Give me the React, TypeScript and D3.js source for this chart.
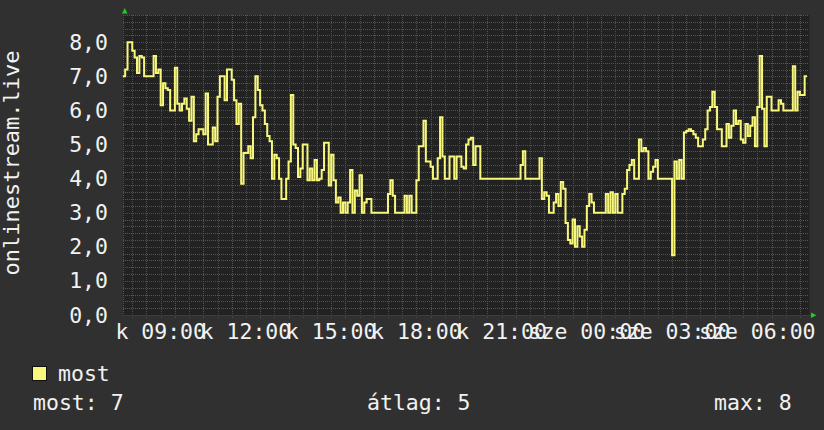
import * as d3 from 'd3'

// Hungarian weekday abbreviations (Sunday first), as rrdtool prints them in hu_HU
const WEEKDAYS = ['v', 'h', 'k', 'sze', 'cs', 'p', 'szo']

// first sample: Tuesday 07:40, then one sample every 5 minutes
const FIRST_SAMPLE = new Date(2024, 0, 2, 7, 40)
const RANGE_END = new Date(2024, 0, 3, 7, 50)
const STEP_MINUTES = 5

const Y_MAX = 8.8
const Y_LABELS = [0, 1, 2, 3, 4, 5, 6, 7, 8]

const AXIS_TITLE = 'onlinestream.live'
const SERIES_NAME = 'most'
const STAT_LABELS = ['most', 'átlag', 'max']

// listeners, 5 minute samples, one row per hour
const mostValues = [
  7.0, 7.2, 8.0, 8.0, // 07:40
  7.75, 7.55, 7.1, 7.6, 7.55, 7.0, 7.0, 7.0, 7.0, 7.6, 7.1, 7.2, // 08
  6.15, 6.8, 6.65, 6.6, 6.0, 6.0, 7.25, 6.2, 6.0, 6.2, 6.35, 6.05, // 09
  5.7, 6.4, 5.1, 5.3, 5.45, 5.45, 5.3, 6.5, 5.0, 5.0, 5.5, 5.1, // 10
  6.4, 7.0, 7.0, 6.3, 7.2, 7.2, 6.9, 6.3, 5.6, 6.2, 3.85, 4.75, // 11
  4.75, 4.95, 4.6, 5.8, 7.0, 6.6, 6.15, 6.0, 5.6, 5.25, 5.1, 4.0, // 12
  4.7, 4.6, 4.0, 3.4, 3.4, 4.0, 4.5, 6.45, 5.0, 4.9, 4.05, 4.3, // 13
  5.0, 5.0, 3.95, 4.3, 3.95, 4.55, 3.95, 4.0, 4.25, 5.05, 5.05, 3.8, // 14
  4.7, 3.95, 3.3, 3.45, 3.0, 3.3, 3.0, 3.3, 4.25, 3.0, 3.65, 3.5, // 15
  4.1, 3.0, 3.3, 3.4, 3.4, 3.0, 3.0, 3.0, 3.0, 3.0, 3.0, 3.0, // 16
  3.55, 3.95, 3.5, 3.0, 3.0, 3.0, 3.0, 3.5, 3.0, 3.5, 3.0, 3.0, // 17
  3.95, 4.95, 4.95, 5.7, 4.5, 4.5, 4.35, 4.0, 4.0, 4.6, 5.8, 4.65, // 18
  4.0, 4.0, 4.65, 4.65, 4.0, 4.65, 4.65, 4.35, 4.3, 5.0, 5.15, 5.2, // 19
  4.4, 4.95, 4.95, 4.0, 4.0, 4.0, 4.0, 4.0, 4.0, 4.0, 4.0, 4.0, // 20
  4.0, 4.0, 4.0, 4.0, 4.0, 4.0, 4.0, 4.0, 4.4, 4.8, 4.0, 4.0, // 21
  4.0, 4.0, 4.0, 4.0, 4.6, 3.4, 3.6, 3.5, 3.0, 3.0, 3.3, 3.55, // 22
  3.2, 3.9, 3.7, 2.7, 2.2, 2.1, 2.8, 2.0, 2.6, 2.3, 2.0, 2.5, // 23
  3.2, 3.55, 3.3, 3.0, 3.0, 3.0, 3.0, 3.0, 3.55, 3.0, 3.6, 3.0, // 00
  3.55, 3.0, 3.0, 3.55, 3.7, 4.25, 4.4, 4.55, 4.0, 4.0, 5.15, 4.8, // 01
  4.9, 4.8, 4.0, 4.2, 4.35, 4.55, 4.0, 4.0, 4.0, 4.0, 4.0, 4.0, // 02
  1.75, 4.5, 4.0, 4.55, 4.0, 5.35, 5.4, 5.45, 5.4, 5.3, 5.2, 4.95, // 03
  4.95, 5.15, 5.45, 6.0, 6.1, 6.55, 6.1, 5.45, 5.45, 4.95, 4.95, 5.6, // 04
  5.2, 5.55, 6.0, 5.6, 5.7, 5.15, 5.05, 5.6, 5.25, 5.55, 5.8, 4.95, // 05
  6.1, 7.6, 6.05, 4.95, 6.4, 6.4, 6.0, 6.0, 6.0, 6.3, 6.2, 6.0, // 06
  6.0, 6.0, 6.0, 7.3, 6.0, 6.55, 6.45, 6.45, 7.0, // 07
]

const WIDTH = 824
const HEIGHT = 430
const PLOT = { left: 122.8, right: 809.4, top: 15, bottom: 315 }

const BG = '#303030'
const CANVAS = '#222222'
const FONT = {
  fontFamily: '"DejaVu Sans Mono", monospace',
  fill: '#f2f2f2',
}
const MINOR = '#555555'
const MAJOR = '#7a3a3a'
const LINE = '#f7f77c'
const ARROW = '#22cc22'

interface Sample {
  t: Date
  v: number
}

const fmtTime = d3.timeFormat('%H:%M')
const fmtTick = d3.format('.1f')

export default function App() {
  const samples: Sample[] = mostValues.map((v, i) => ({
    t: d3.timeMinute.offset(FIRST_SAMPLE, i * STEP_MINUTES),
    v,
  }))
  const last = samples[samples.length - 1]
  const stepped = [...samples, { t: d3.timeMinute.offset(last.t, STEP_MINUTES), v: last.v }]

  const x = d3.scaleTime().domain([FIRST_SAMPLE, RANGE_END]).range([PLOT.left, PLOT.right])
  const y = d3.scaleLinear().domain([0, Y_MAX]).range([PLOT.bottom, PLOT.top])

  const line = d3
    .line<Sample>()
    .x((d) => x(d.t))
    .y((d) => y(d.v))
    .curve(d3.curveStepAfter)

  const minorY = d3.range(0, Y_MAX + 0.001, 0.2).filter((v) => Math.abs(v - Math.round(v)) > 0.01)
  const halfHours = d3.timeMinute
    .every(30)!
    .range(FIRST_SAMPLE, RANGE_END)
    .filter((d) => d.getMinutes() === 30)
  const hours = d3.timeHour.range(FIRST_SAMPLE, RANGE_END)
  const labelHours = d3.timeHour.every(3)!.range(FIRST_SAMPLE, RANGE_END)

  const stats = [last.v, d3.mean(mostValues) ?? 0, d3.max(mostValues) ?? 0]
  const statX = [33, 367, 714]

  const px = (v: number) => Math.round(v) + 0.5

  return (
    <svg
      width={WIDTH}
      height={HEIGHT}
      viewBox={`0 0 ${WIDTH} ${HEIGHT}`}
      style={{ position: 'absolute', left: 0, top: 0, display: 'block' }}
    >
      <rect x={0} y={0} width={WIDTH} height={HEIGHT} fill={BG} />
      <rect x={PLOT.left} y={PLOT.top} width={PLOT.right - PLOT.left} height={PLOT.bottom - PLOT.top} fill={CANVAS} />

      {/* minor grid */}
      <g stroke={MINOR} strokeDasharray="1 1" shapeRendering="crispEdges">
        {minorY.map((v) => (
          <line key={`my${v}`} x1={PLOT.left} x2={PLOT.right} y1={px(y(v))} y2={px(y(v))} />
        ))}
        {halfHours.map((d) => (
          <line key={`mx${+d}`} x1={px(x(d))} x2={px(x(d))} y1={PLOT.top} y2={PLOT.bottom + 3} />
        ))}
        <line x1={px(PLOT.left)} x2={px(PLOT.left)} y1={PLOT.top} y2={PLOT.bottom} />
      </g>

      {/* major grid */}
      <g stroke={MAJOR} strokeDasharray="1 1" shapeRendering="crispEdges">
        {Y_LABELS.map((v) => (
          <line key={`gy${v}`} x1={PLOT.left} x2={PLOT.right} y1={px(y(v))} y2={px(y(v))} />
        ))}
        {hours.map((d) => (
          <line key={`gx${+d}`} x1={px(x(d))} x2={px(x(d))} y1={PLOT.top} y2={PLOT.bottom + 3} />
        ))}
      </g>

      {/* axes */}
      <g stroke="#3c3c3c" shapeRendering="crispEdges">
        <line x1={PLOT.left - 1} x2={PLOT.right + 2} y1={px(PLOT.bottom)} y2={px(PLOT.bottom)} />
      </g>
      <polygon points="122,13.5 127.5,13.5 124.75,8" fill={ARROW} />
      <polygon points="811,312.5 811,318 816.5,315.25" fill={ARROW} />

      {/* series */}
      <path d={line(stepped) ?? undefined} fill="none" stroke={LINE} strokeWidth={2} strokeLinejoin="miter" />

      {/* y tick labels */}
      <g {...FONT} fontSize={21.5} textAnchor="end">
        {Y_LABELS.map((v) => (
          <text key={`yl${v}`} x={108} y={y(v) + 7.5}>
            {fmtTick(v).replace('.', ',')}
          </text>
        ))}
      </g>

      {/* x tick labels */}
      <g {...FONT} fontSize={21.5} textAnchor="middle">
        {labelHours.map((d) => (
          <text key={`xl${+d}`} x={x(d)} y={339}>
            {`${WEEKDAYS[d.getDay()]} ${fmtTime(d)}`}
          </text>
        ))}
      </g>

      {/* vertical title */}
      <text
        {...FONT}
        fontSize={22}
        textAnchor="middle"
        transform={`translate(18.5, 163) rotate(-90)`}
      >
        {AXIS_TITLE}
      </text>

      {/* legend */}
      <rect x={32.5} y={366.5} width={14} height={14} fill={LINE} stroke="#111111" strokeWidth={1} />
      <text {...FONT} fontSize={21.5} x={58} y={381}>
        {SERIES_NAME}
      </text>
      <g {...FONT} fontSize={21.5}>
        {STAT_LABELS.map((label, i) => (
          <text key={label} x={statX[i]} y={410}>
            {`${label}: ${Math.round(stats[i])}`}
          </text>
        ))}
      </g>
    </svg>
  )
}
